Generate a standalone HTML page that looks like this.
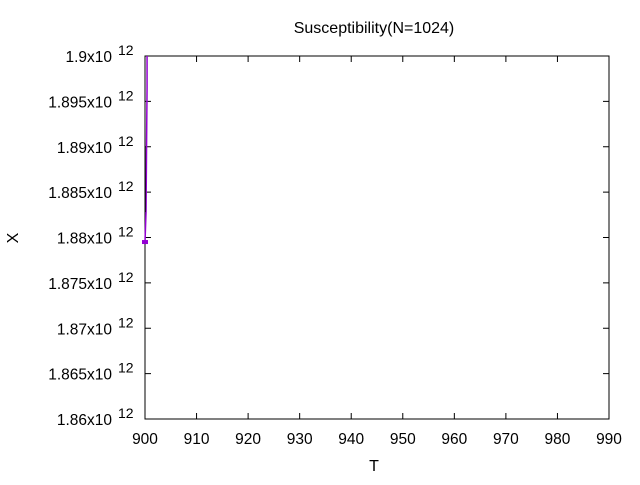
<!DOCTYPE html>
<html><head><meta charset="utf-8"><style>
body{margin:0;background:#fff;font-family:"Liberation Sans",sans-serif}
svg text{font-family:"Liberation Sans",sans-serif;fill:#000}
</style></head><body>
<svg id="c" width="640" height="480" xmlns="http://www.w3.org/2000/svg"></svg>
<script>
const xTicks=[900,910,920,930,940,950,960,970,980,990];
const yTicks=[1.86,1.865,1.87,1.875,1.88,1.885,1.89,1.895,1.9];
const yLabels=["1.86x10","1.865x10","1.87x10","1.875x10","1.88x10","1.885x10","1.89x10","1.895x10","1.9x10"];
const seriesT=[900.0,900.2,900.3,900.4];
const seriesX=[1.8795,1.8828,1.8899,1.8965];
const L=145,R=609,T=56,B=419;
const xs=v=>L+(v-900)/90*(R-L);
const ys=v=>B-(v-1.86)/0.04*(B-T);
const svg=document.getElementById('c');
const NS='http://www.w3.org/2000/svg';
function mk(tag,attrs,txt){const e=document.createElementNS(NS,tag);for(const k in attrs)e.setAttribute(k,attrs[k]);if(txt!==undefined)e.textContent=txt;svg.appendChild(e);return e;}
let e=mk('rect',{x:L,y:T,width:R-L,height:B-T,fill:'none',stroke:'#000','stroke-width':1});


xTicks.forEach(v=>{const x=xs(v);
 mk('line',{x1:x,y1:B,x2:x,y2:B-6,stroke:'#000'});mk('line',{x1:x,y1:T,x2:x,y2:T+6,stroke:'#000'});
 const t=mk('text',{x:x,y:B+25,'text-anchor':'middle','font-size':'15.5'},v);
 
 });
yTicks.forEach((v,i)=>{const y=ys(v);
 mk('line',{x1:L,y1:y,x2:L+6,y2:y,stroke:'#000'});mk('line',{x1:R,y1:y,x2:R-6,y2:y,stroke:'#000'});
 const t=mk('text',{x:112,y:y+6,'text-anchor':'end','font-size':'15.5'},yLabels[i]);
 
 
 const s=mk('text',{x:118,y:y-1,'font-size':'14'},'12');
 
 });
let pts=seriesT.map((t,i)=>xs(t)+','+ys(seriesX[i])).join(' ');
pts+=' '+xs(900.4)+','+T;
const pl=mk('polyline',{points:pts,fill:'none',stroke:'#9400d3','stroke-width':1.5});


const bl=mk('line',{x1:xs(900.05),y1:ys(1.8828),x2:xs(900.05),y2:ys(1.89),stroke:'#000','stroke-width':1});


const m=mk('rect',{x:xs(seriesT[0])-3,y:ys(seriesX[0])-2,width:6,height:4,fill:'#9400d3'});


let t=mk('text',{x:374,y:33,'text-anchor':'middle','font-size':'16'},'Susceptibility(N=1024)');


t=mk('text',{x:374,y:471,'text-anchor':'middle','font-size':'16'},'T');


t=mk('text',{x:18,y:238,'text-anchor':'middle',transform:'rotate(-90 18 238)','font-size':'16'},'X');


</script>
</body></html>
